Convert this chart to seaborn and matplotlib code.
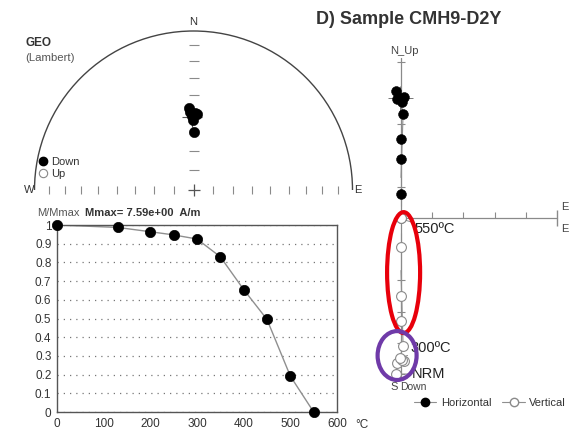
import numpy as np
import pandas as pd
import matplotlib
matplotlib.use("Agg")
import matplotlib.pyplot as plt
import seaborn as sns
from matplotlib.patches import Arc, Ellipse
from matplotlib.lines import Line2D

# ---------------- data ----------------
temps = [0, 130, 200, 250, 300, 350, 400, 450, 500, 550]
m_norm = [1.0, 0.987, 0.964, 0.947, 0.925, 0.83, 0.655, 0.495, 0.192, 0.0]
x_ticks = [0, 100, 200, 300, 400, 500, 600]
y_ticks = [0, 0.1, 0.2, 0.3, 0.4, 0.5, 0.6, 0.7, 0.8, 0.9, 1.0]
y_tick_labels = ["0", "0.1", "0.2", "0.3", "0.4", "0.5", "0.6", "0.7", "0.8", "0.9", "1"]

# Zijderveld components (A/m)
comp_e = [-0.19, -0.15, 0.12, 0.04, -0.04, 0.08, 0.0, 0.0, 0.0, 0.0]
comp_n = [4.88, 4.58, 4.65, 4.46, 4.62, 4.00, 3.04, 2.27, 0.92, 0.0]
comp_down = [6.00, 5.58, 5.50, 5.46, 5.38, 4.92, 3.96, 3.00, 1.12, 0.0]

# stereonet directions (degrees)
st_dec = [356.9, 1.1, 358.8, 2.6, 357.4, 359.6, 0.5]
st_inc = [47.1, 50.0, 51.6, 50.6, 49.3, 53.8, 60.0]
mean_dec, mean_inc = 358.5, 52.0

# ---------------- style ----------------
sns.set_theme(style="white")
plt.rcParams["font.family"] = ["Liberation Sans", "DejaVu Sans"]
TXT = "#333333"
GRAY = "#8a8a8a"
W, H = 583, 436

fig = plt.figure(figsize=(5.83, 4.36), dpi=100)


def fx(px):
    return px / W


def fy(py):
    return 1 - py / H


def ax_rect(left, top, width, height):
    return [left / W, 1 - (top + height) / H, width / W, height / H]


# ---------------- demagnetisation curve ----------------
ax_d = fig.add_axes(ax_rect(57, 225, 280, 187))
demag = pd.DataFrame({"T": temps, "M": m_norm})
sns.lineplot(data=demag, x="T", y="M", ax=ax_d, color="#8f8f8f", lw=1.0, sort=False)
sns.scatterplot(data=demag, x="T", y="M", ax=ax_d, color="black", s=55,
                edgecolor="black", linewidth=0.5, zorder=5, clip_on=False)
ax_d.set_xlim(0, 600)
ax_d.set_ylim(0, 1)
ax_d.set_xticks(x_ticks)
ax_d.set_yticks(y_ticks)
ax_d.set_yticklabels(y_tick_labels)
ax_d.tick_params(length=0, labelsize=8.5, colors=TXT, pad=4)
ax_d.set_xlabel("")
ax_d.set_ylabel("")
for s in ax_d.spines.values():
    s.set_color("#555555")
    s.set_linewidth(1.0)
ax_d.yaxis.grid(True, color="#777777", linestyle=(0, (1, 4)), lw=0.9)
ax_d.xaxis.grid(False)
ax_d.set_facecolor("none")
fig.text(fx(37), fy(213), "M/Mmax", fontsize=8, color="#555555", va="center", ha="left")
fig.text(fx(85), fy(213), "Mmax= 7.59e+00  A/m", fontsize=8, color=TXT,
         va="center", ha="left", fontweight="bold")
fig.text(fx(355), fy(425), "°C", fontsize=8.5, color=TXT, va="center", ha="left")

# ---------------- stereonet ----------------
R = 159.0
cx, cy = 193.5, 190.0
xl, yl = (-1.2, 1.2), (-0.25, 1.15)
ax_s = fig.add_axes(ax_rect(cx + xl[0] * R, cy - yl[1] * R,
                            (xl[1] - xl[0]) * R, (yl[1] - yl[0]) * R))
ax_s.set_xlim(*xl)
ax_s.set_ylim(*yl)
ax_s.axis("off")
ax_s.add_patch(Arc((0, 0), 2, 2, theta1=0, theta2=180, color="#444444", lw=1.0))
grat = np.arange(10, 90, 10)
r_grat = np.sqrt(2) * np.sin(np.radians((90 - grat) / 2))
ax_s.plot(np.zeros_like(r_grat), r_grat, ls="none", marker="_", ms=7, mew=0.8, color=GRAY)
ax_s.plot(np.concatenate([r_grat, -r_grat]), np.zeros(2 * len(r_grat)), ls="none",
          marker="|", ms=6, mew=0.8, color=GRAY)
ax_s.plot([0], [0], marker="+", ms=9, mew=0.9, color="#555555")

dec = np.radians(np.array(st_dec))
req = np.sqrt(2) * np.sin(np.radians((90 - np.array(st_inc)) / 2))
stereo = pd.DataFrame({"x": req * np.sin(dec), "y": req * np.cos(dec)})
mr = np.sqrt(2) * np.sin(np.radians((90 - mean_inc) / 2))
ax_s.plot([mr * np.sin(np.radians(mean_dec))], [mr * np.cos(np.radians(mean_dec))],
          marker="+", ms=14, mew=0.8, color="#555555", zorder=2)
sns.scatterplot(data=stereo, x="x", y="y", ax=ax_s, color="black", s=55,
                edgecolor="black", linewidth=0.4, zorder=4)
ax_s.set_xlabel("")
ax_s.set_ylabel("")
ax_s.text(0, 1.057, "N", ha="center", va="center", fontsize=8, color=TXT)
ax_s.text(-1.035, 0, "W", ha="center", va="center", fontsize=8, color=TXT)
ax_s.text(1.035, 0, "E", ha="center", va="center", fontsize=8, color=TXT)
st_handles = [Line2D([], [], ls="none", marker="o", ms=6, mfc="black", mec="black"),
              Line2D([], [], ls="none", marker="o", ms=6, mfc="white", mec="#888888", mew=0.8)]
ax_s.legend(st_handles, ["Down", "Up"], loc="center left",
            bbox_to_anchor=(fx(34), fy(168)), bbox_transform=fig.transFigure,
            frameon=False, fontsize=8, handlelength=0.6, handletextpad=0.4,
            labelspacing=0.2, borderpad=0, labelcolor=TXT)

fig.text(fx(25), fy(43), "GEO", fontsize=8.5, fontweight="bold", color=TXT, va="center")
fig.text(fx(25), fy(58), "(Lambert)", fontsize=8.2, color="#555555", va="center")
fig.text(fx(408.5), fy(19), "D) Sample CMH9-D2Y", fontsize=13, fontweight="bold",
         color=TXT, ha="center", va="center")

# ---------------- Zijderveld ----------------
S = 26.0
ox, oy = 401.0, 218.0
zx, zy = (-1.5, 6.6), (-6.7, 6.7)
ax_z = fig.add_axes(ax_rect(ox + zx[0] * S, oy - zy[1] * S,
                            (zx[1] - zx[0]) * S, (zy[1] - zy[0]) * S))
ax_z.set_xlim(*zx)
ax_z.set_ylim(*zy)
ax_z.axis("off")
step = 1.2
ax_z.plot([0, 5 * step], [0, 0], color=GRAY, lw=0.9)
ax_z.plot([0, 0], [-6.15, 6.15], color=GRAY, lw=0.9)
ht = step * np.arange(1, 5)
ax_z.plot(ht, np.full_like(ht, 0.1), ls="none", marker="|", ms=5, mew=0.8, color=GRAY)
ax_z.plot([5 * step], [0], marker="|", ms=11, mew=1.0, color=GRAY)
vt = step * np.concatenate([np.arange(-5, 0), np.arange(1, 6)])
ax_z.plot(np.zeros_like(vt), vt, ls="none", marker="_", ms=6, mew=0.8, color=GRAY)
ax_z.plot([-0.05], [4.62], marker="+", ms=18, mew=0.7, color="#777777", zorder=2)

zij = pd.DataFrame({"E": comp_e, "N": comp_n, "Up": [-d for d in comp_down]})
sns.lineplot(data=zij, x="E", y="N", ax=ax_z, color="#8f8f8f", lw=0.8, sort=False)
sns.lineplot(data=zij, x="E", y="Up", ax=ax_z, color="#8f8f8f", lw=0.8, sort=False)
sns.scatterplot(data=zij, x="E", y="N", ax=ax_z, color="black", s=50,
                edgecolor="black", linewidth=0.4, zorder=4)
sns.scatterplot(data=zij, x="E", y="Up", ax=ax_z, color="white", s=50,
                edgecolor="#8a8a8a", linewidth=0.8, zorder=4)
ax_z.set_xlabel("")
ax_z.set_ylabel("")

ax_z.text(-0.42, 6.25, "N_Up", ha="left", va="bottom", fontsize=8, color="#444444")
ax_z.text(-0.42, -6.3, "S", ha="left", va="top", fontsize=8, color="#444444")
ax_z.text(-0.05, -6.3, "Down", ha="left", va="top", fontsize=7.5, color="#444444")
ax_z.text(6.15, 0.22, "E", ha="left", va="bottom", fontsize=8, color="#444444")
ax_z.text(6.15, -0.22, "E", ha="left", va="top", fontsize=8, color="#444444")

lab_kw = dict(fontsize=10.5, color="#222222", ha="left", va="center")
ax_z.annotate("550ºC", xy=(0.05, -0.05), xytext=(0.52, -0.42),
              arrowprops=dict(arrowstyle="-", color=GRAY, lw=0.7, shrinkA=0, shrinkB=0), **lab_kw)
ax_z.annotate("300ºC", xy=(comp_e[4], -comp_down[4]), xytext=(0.38, -5.0),
              arrowprops=dict(arrowstyle="-", color=GRAY, lw=0.7, shrinkA=0, shrinkB=2), **lab_kw)
ax_z.annotate("NRM", xy=(comp_e[0], -comp_down[0]), xytext=(0.42, -6.0),
              arrowprops=dict(arrowstyle="-", color=GRAY, lw=0.7, shrinkA=0, shrinkB=2), **lab_kw)

ax_z.add_patch(Ellipse((0.1, -2.1), 1.27, 4.65, fill=False, edgecolor="#e8000b", lw=3.0, zorder=6))
ax_z.add_patch(Ellipse((-0.15, -5.29), 1.5, 1.88, fill=False, edgecolor="#6f3aa8", lw=3.0, zorder=6))

z_handles = [Line2D([], [], color="#8f8f8f", lw=0.8, marker="o", ms=6, mfc="black", mec="black"),
             Line2D([], [], color="#8f8f8f", lw=0.8, marker="o", ms=6, mfc="white", mec="#8a8a8a")]
fig.legend(z_handles, ["Horizontal", "Vertical"], loc="center",
           bbox_to_anchor=(fx(490), fy(403)), ncol=2, frameon=False, fontsize=8,
           handlelength=2.0, handletextpad=0.4, columnspacing=1.0, borderpad=0,
           labelcolor=TXT)

fig.savefig("out.png", dpi=100, facecolor="white")
